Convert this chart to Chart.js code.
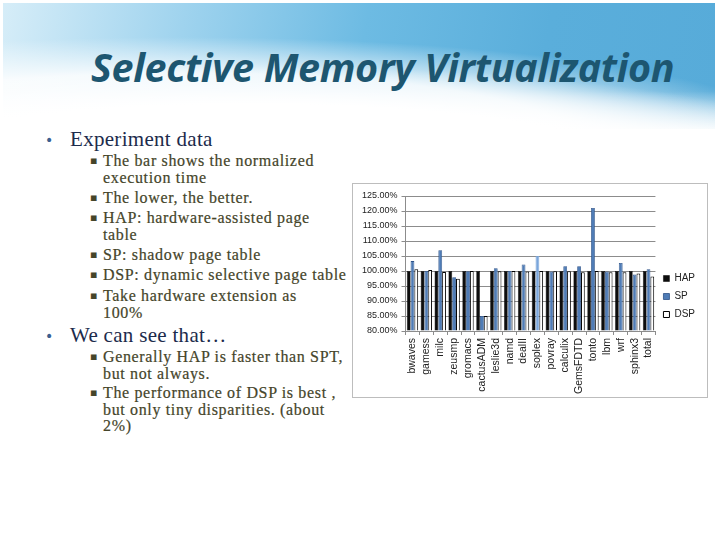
<!DOCTYPE html>
<html>
<head>
<meta charset="utf-8">
<script src="https://cdn.jsdelivr.net/npm/chart.js@4"></script>
<style>
  html,body{margin:0;padding:0;background:#fff;}
  #slide{position:relative;width:720px;height:540px;overflow:hidden;background:#fff;}
  #banner{position:absolute;left:3px;top:3px;width:712px;height:126px;
    background:
      radial-gradient(ellipse 600px 95px at 250px 158px, rgba(255,255,255,1) 60%, rgba(255,255,255,0.0) 100%),
      radial-gradient(ellipse 760px 120px at 180px 130px, rgba(255,255,255,0.85) 50%, rgba(255,255,255,0) 80%),
      linear-gradient(180deg, rgba(255,255,255,0) 70%, rgba(255,255,255,0.9) 100%),
      linear-gradient(100deg, #d6edf8 0%, #9fd3ee 25%, #6dbbe3 50%, #5aaedb 75%, #57abd9 100%);}
  #title{position:absolute;left:91px;top:42px;font-family:"Open Sans",sans-serif;font-style:italic;font-weight:700;
    font-size:39.5px;line-height:50px;color:#1d5670;white-space:nowrap;letter-spacing:-0.35px;}
  .b1{position:absolute;left:70px;font-family:"Liberation Serif",serif;font-size:21px;line-height:22px;letter-spacing:0.3px;color:#1c2b4c;white-space:nowrap;}
  .b1:before{content:"\2022";position:absolute;left:-25px;top:1px;font-family:"DejaVu Sans";font-size:14px;color:#3a6090;}
  .b2{position:absolute;left:103px;font-family:"Liberation Serif",serif;font-size:16px;line-height:16.5px;letter-spacing:0.65px;color:#45452a;white-space:nowrap;-webkit-text-stroke:0.2px #45452a;}
  .b2:before{content:"\25AA";position:absolute;left:-13px;top:0px;font-family:"DejaVu Sans";font-size:11px;color:#45452a;}
  #chartbox{position:absolute;left:352px;top:183px;width:354px;height:213px;border:1px solid #bdbdbd;background:#fff;}
</style>
</head>
<body>
<div id="slide">
  <div id="banner"></div>
  <div id="title">Selective Memory Virtualization</div>

  <div class="b1" style="top:128px;">Experiment data</div>
  <div class="b2" style="top:153px;">The bar shows the normalized<br>execution time</div>
  <div class="b2" style="top:190px;">The lower, the better.</div>
  <div class="b2" style="top:210px;">HAP: hardware-assisted page<br>table</div>
  <div class="b2" style="top:247px;">SP: shadow page table</div>
  <div class="b2" style="top:267px;">DSP: dynamic selective page table</div>
  <div class="b2" style="top:288px;">Take hardware extension as<br>100%</div>
  <div class="b1" style="top:324px;">We can see that…</div>
  <div class="b2" style="top:349px;">Generally HAP is faster than SPT,<br>but not always.</div>
  <div class="b2" style="top:385px;">The performance of DSP is best ,<br>but only tiny disparities. (about<br>2%)</div>

  <div id="chartbox"><canvas id="c" width="354" height="213"></canvas></div>
</div>
<script>
const categories = ["bwaves","gamess","milc","zeusmp","gromacs","cactusADM","leslie3d","namd","dealII","soplex","povray","calculix","GemsFDTD","tonto","lbm","wrf","sphinx3","total"];
const hapValues = [100,100,100,100,100,100,100,100,100,100,100,100,100,100,100,100,100,100];
const spValues  = [103.3,100,106.9,97.9,99.9,85,100.9,100,102.2,105,99.8,101.6,101.6,121,99.8,102.7,98.8,100.6];
const dspValues = [100.6,100.3,99.7,97.4,100,85,99.9,100,99.8,100,99.9,99.9,99.6,100,99.6,99.6,99.2,98.2];
const yTicks = [80,85,90,95,100,105,110,115,120,125];

new Chart(document.getElementById('c'), {
  type: 'bar',
  data: {
    labels: categories,
    datasets: [
      {label:'HAP', data: hapValues, backgroundColor:'#0d0d0d', borderColor:'#000', borderWidth:0.5},
      {label:'SP', data: spValues,
        backgroundColor: ctx => categories[ctx.dataIndex] === 'soplex' ? '#7aa6dc' : '#4f7cb6',
        borderColor: ctx => categories[ctx.dataIndex] === 'soplex' ? '#7aa6dc' : '#2d5288', borderWidth:0.8},
      {label:'DSP', data: dspValues, backgroundColor:'#ffffff', borderColor:'#000', borderWidth:1}
    ]
  },
  options: {
    responsive:false, animation:false,
    datasets:{bar:{categoryPercentage:0.82, barPercentage:1.0, base:80}},
    layout:{padding:{left:5, top:12, right:2, bottom:0}},
    plugins:{
      legend:{position:'right', labels:{boxWidth:6, boxHeight:6, padding:8, color:'#222',
        font:{family:'"Liberation Sans", Arial, sans-serif', size:10}}},
      tooltip:{enabled:false}
    },
    scales:{
      y:{min:80, max:125,
        afterBuildTicks: s => { s.ticks = yTicks.map(v => ({value:v})); },
        ticks:{callback: v => v.toFixed(2) + '%', color:'#222', padding:4,
          font:{family:'"Liberation Sans", Arial, sans-serif', size:9}},
        grid:{color:'#8c8c8c', tickLength:4, lineWidth:1},
        border:{color:'#8c8c8c'}
      },
      x:{
        ticks:{autoSkip:false, minRotation:90, maxRotation:90, color:'#222', padding:3,
          font:{family:'"Liberation Sans", Arial, sans-serif', size:10.5}},
        grid:{offset:true, drawOnChartArea:false, tickLength:4, color:'#8c8c8c'},
        border:{color:'#8c8c8c'}
      }
    }
  }
});
</script>
</body>
</html>
